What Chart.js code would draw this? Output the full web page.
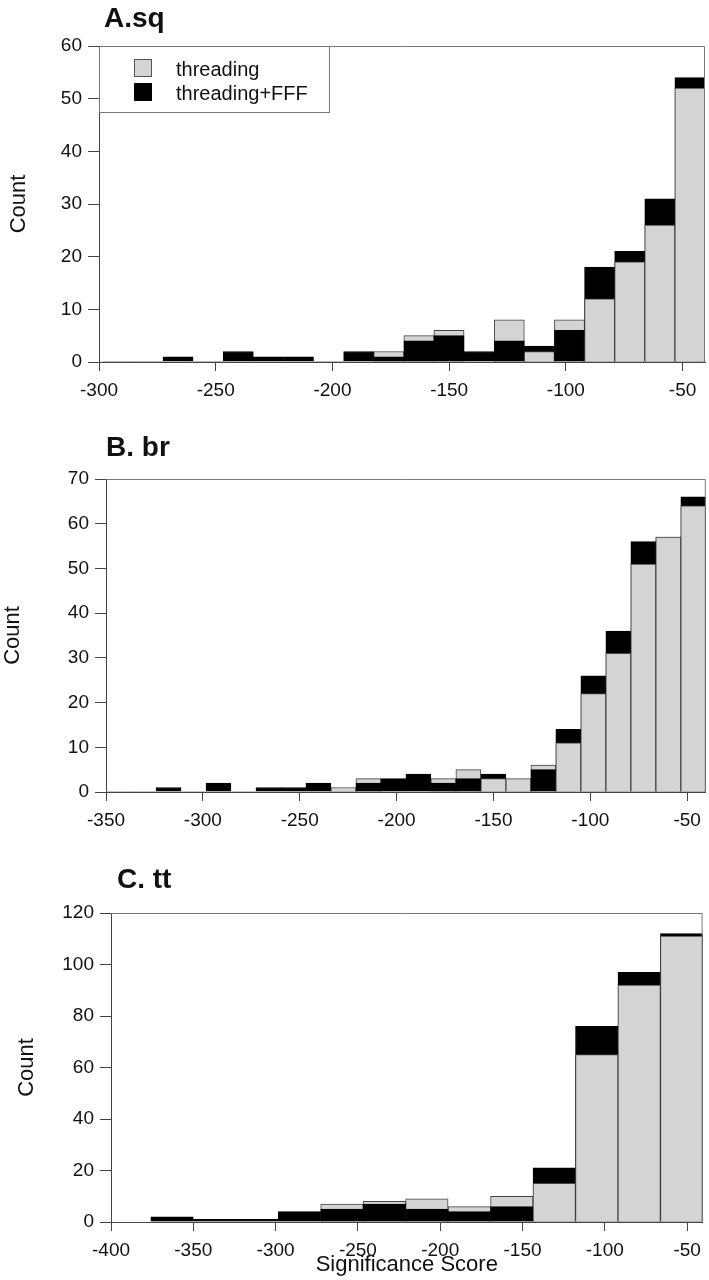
<!DOCTYPE html>
<html>
<head>
<meta charset="utf-8">
<script src="https://cdn.jsdelivr.net/npm/chart.js@4.4.1/dist/chart.umd.min.js"></script>
<style>
body { margin:0; background:#fff; width:709px; height:1280px; position:relative; overflow:hidden; font-family:'Liberation Sans', Arial, sans-serif; }
.panel { position:absolute; left:0; width:709px; }
.ttl { position:absolute; font-weight:bold; font-size:28px; line-height:30px; color:#111; white-space:nowrap; }
</style>
</head>
<body>
<div class="panel" style="top:0;height:400px"><canvas id="chartA"></canvas></div>
<div class="panel" style="top:400px;height:430px"><canvas id="chartB"></canvas></div>
<div class="panel" style="top:830px;height:450px"><canvas id="chartC"></canvas></div>
<div class="ttl" style="left:104px;top:3px">A.sq</div>
<div class="ttl" style="left:106px;top:432px">B. br</div>
<div class="ttl" style="left:117px;top:864px">C. tt</div>
<script>
// bin centres (significance score)
const binsA = [-291.95, -279.05, -266.15, -253.25, -240.35, -227.45, -214.55, -201.65, -188.75, -175.85,
               -162.95, -150.05, -137.15, -124.25, -111.35, -98.45, -85.55, -72.65, -59.75, -46.85];
const threadingA = [0, 0, 0, 0, 0, 0, 0, 0, 0, 2, 5, 6, 0, 8, 2, 8, 12, 19, 26, 52];
const fffA       = [0, 0, 1, 0, 2, 1, 1, 0, 2, 1, 4, 5, 2, 4, 3, 6, 18, 21, 31, 54];

const binsB = [-343.55, -330.65, -317.75, -304.85, -291.95, -279.05, -266.15, -253.25, -240.35, -227.45, -214.55, -201.65,
               -188.75, -175.85, -162.95, -150.05, -137.15, -124.25, -111.35, -98.45, -85.55, -72.65, -59.75, -46.85];
const threadingB = [0, 0, 0, 0, 0, 0, 0, 0, 0, 1, 3, 0, 0, 3, 5, 3, 3, 6, 11, 22, 31, 51, 57, 64];
const fffB       = [0, 0, 1, 0, 2, 0, 1, 1, 2, 0, 2, 3, 4, 2, 3, 4, 0, 5, 14, 26, 36, 56, 57, 66];

const binsC = [-362.9, -337.1, -311.3, -285.5, -259.7, -233.9, -208.1, -182.3, -156.5, -130.7, -104.9, -79.1, -53.3];
const threadingC = [0, 0, 0, 0, 7, 8, 9, 6, 10, 15, 65, 92, 111];
const fffC       = [2, 1, 1, 4, 5, 7, 5, 4, 6, 21, 76, 97, 112];

const GREY = '#d3d4d3';
const BLACK = '#000';
const FONT = "'Liberation Sans', Arial, sans-serif";

// frame on top and right of the plot area
const framePlugin = {
    id: 'frame',
    afterDraw(chart) {
        const {ctx, chartArea: a} = chart;
        ctx.save();
        ctx.strokeStyle = '#777';
        ctx.lineWidth = 1;
        ctx.beginPath();
        ctx.moveTo(a.left, a.top + 0.5);
        ctx.lineTo(a.right - 0.5, a.top + 0.5);
        ctx.lineTo(a.right - 0.5, a.bottom);
        ctx.stroke();
        ctx.restore();
    }
};

// boxed legend inside panel A
const legendBox = {
    id: 'legendBox',
    afterDraw(chart) {
        const {ctx, chartArea: a} = chart;
        const x = a.left, y = a.top;
        ctx.save();
        ctx.fillStyle = '#fff';
        ctx.fillRect(x, y, 231, 66);
        ctx.strokeStyle = '#777';
        ctx.lineWidth = 1;
        ctx.strokeRect(x + 0.5, y + 0.5, 230, 66);
        ctx.fillStyle = GREY;
        ctx.fillRect(x + 35, y + 13, 18, 18);
        ctx.strokeStyle = '#555';
        ctx.strokeRect(x + 35.5, y + 13.5, 17, 17);
        ctx.fillStyle = BLACK;
        ctx.fillRect(x + 35, y + 37, 18, 18);
        ctx.fillStyle = '#111';
        ctx.font = '20px ' + FONT;
        ctx.textBaseline = 'alphabetic';
        ctx.fillText('threading', x + 77, y + 30);
        ctx.fillText('threading+FFF', x + 77, y + 54);
        ctx.restore();
    }
};

function makeChart(id, bins, grey, black, o) {
    // the shorter bar of each bin is drawn in front of the taller one
    const back = grey.map((g, i) => Math.max(g, black[i]));
    const front = grey.map((g, i) => Math.min(g, black[i]));
    const backCol = grey.map((g, i) => black[i] >= g ? BLACK : GREY);
    const frontCol = grey.map((g, i) => g <= black[i] ? GREY : BLACK);
    const edge = cols => cols.map(c => c === GREY ? '#444' : '#000');

    const tickFont = {family: FONT, size: 19};
    return new Chart(document.getElementById(id), {
        type: 'bar',
        data: {
            datasets: [{
                label: 'front',
                data: bins.map((x, i) => ({x: x, y: front[i]})),
                backgroundColor: frontCol,
                borderColor: edge(frontCol),
                borderWidth: front.map(v => v > 0 ? 1 : 0),
                barPercentage: 1,
                categoryPercentage: 1
            }, {
                label: 'back',
                data: bins.map((x, i) => ({x: x, y: back[i]})),
                backgroundColor: backCol,
                borderColor: edge(backCol),
                borderWidth: back.map(v => v > 0 ? 1 : 0),
                barPercentage: 1,
                categoryPercentage: 1
            }]
        },
        options: {
            responsive: true,
            maintainAspectRatio: false,
            animation: false,
            layout: {padding: {top: o.top, right: o.right, left: 0, bottom: 0}},
            plugins: {legend: {display: false}, tooltip: {enabled: false}},
            scales: {
                x: {
                    type: 'linear',
                    stacked: true,
                    offset: false,
                    min: o.xmin,
                    max: o.xmax,
                    afterFit: s => { s.height = o.xh; },
                    border: {display: true, color: '#444', width: 1},
                    grid: {display: true, drawOnChartArea: false, drawTicks: true, tickLength: 9, color: '#444', offset: false},
                    ticks: {stepSize: 50, includeBounds: false, autoSkip: false, maxRotation: 0, padding: 8, color: '#111', font: tickFont},
                    title: {
                        display: !!o.xtitle,
                        text: o.xtitle || '',
                        color: '#111',
                        font: {family: FONT, size: 22},
                        padding: {top: 0, bottom: 2}
                    }
                },
                y: {
                    stacked: false,
                    min: 0,
                    max: o.ymax,
                    afterFit: s => { s.width = o.yw; },
                    border: {display: true, color: '#444', width: 1},
                    grid: {display: true, drawOnChartArea: false, drawTicks: true, tickLength: 11, color: '#444'},
                    ticks: {stepSize: o.ystep, padding: 6, color: '#111', font: tickFont},
                    title: {
                        display: true,
                        text: 'Count',
                        color: '#111',
                        font: {family: FONT, size: 22},
                        padding: {top: o.tpad, bottom: 0}
                    }
                }
            }
        },
        plugins: o.legend ? [framePlugin, legendBox] : [framePlugin]
    });
}

makeChart('chartA', binsA, threadingA, fffA,
    {top: 46, right: 4, xh: 38, yw: 99, xmin: -300, xmax: -40.4, ymax: 60, ystep: 10, tpad: 6, legend: true});
makeChart('chartB', binsB, threadingB, fffB,
    {top: 79, right: 2, xh: 38, yw: 106, xmin: -350, xmax: -40.4, ymax: 70, ystep: 10, tpad: 0});
makeChart('chartC', binsC, threadingC, fffC,
    {top: 83, right: 6, xh: 58, yw: 111, xmin: -400, xmax: -40.6, ymax: 120, ystep: 20, tpad: 14, xtitle: 'Significance Score'});
</script>
</body>
</html>
